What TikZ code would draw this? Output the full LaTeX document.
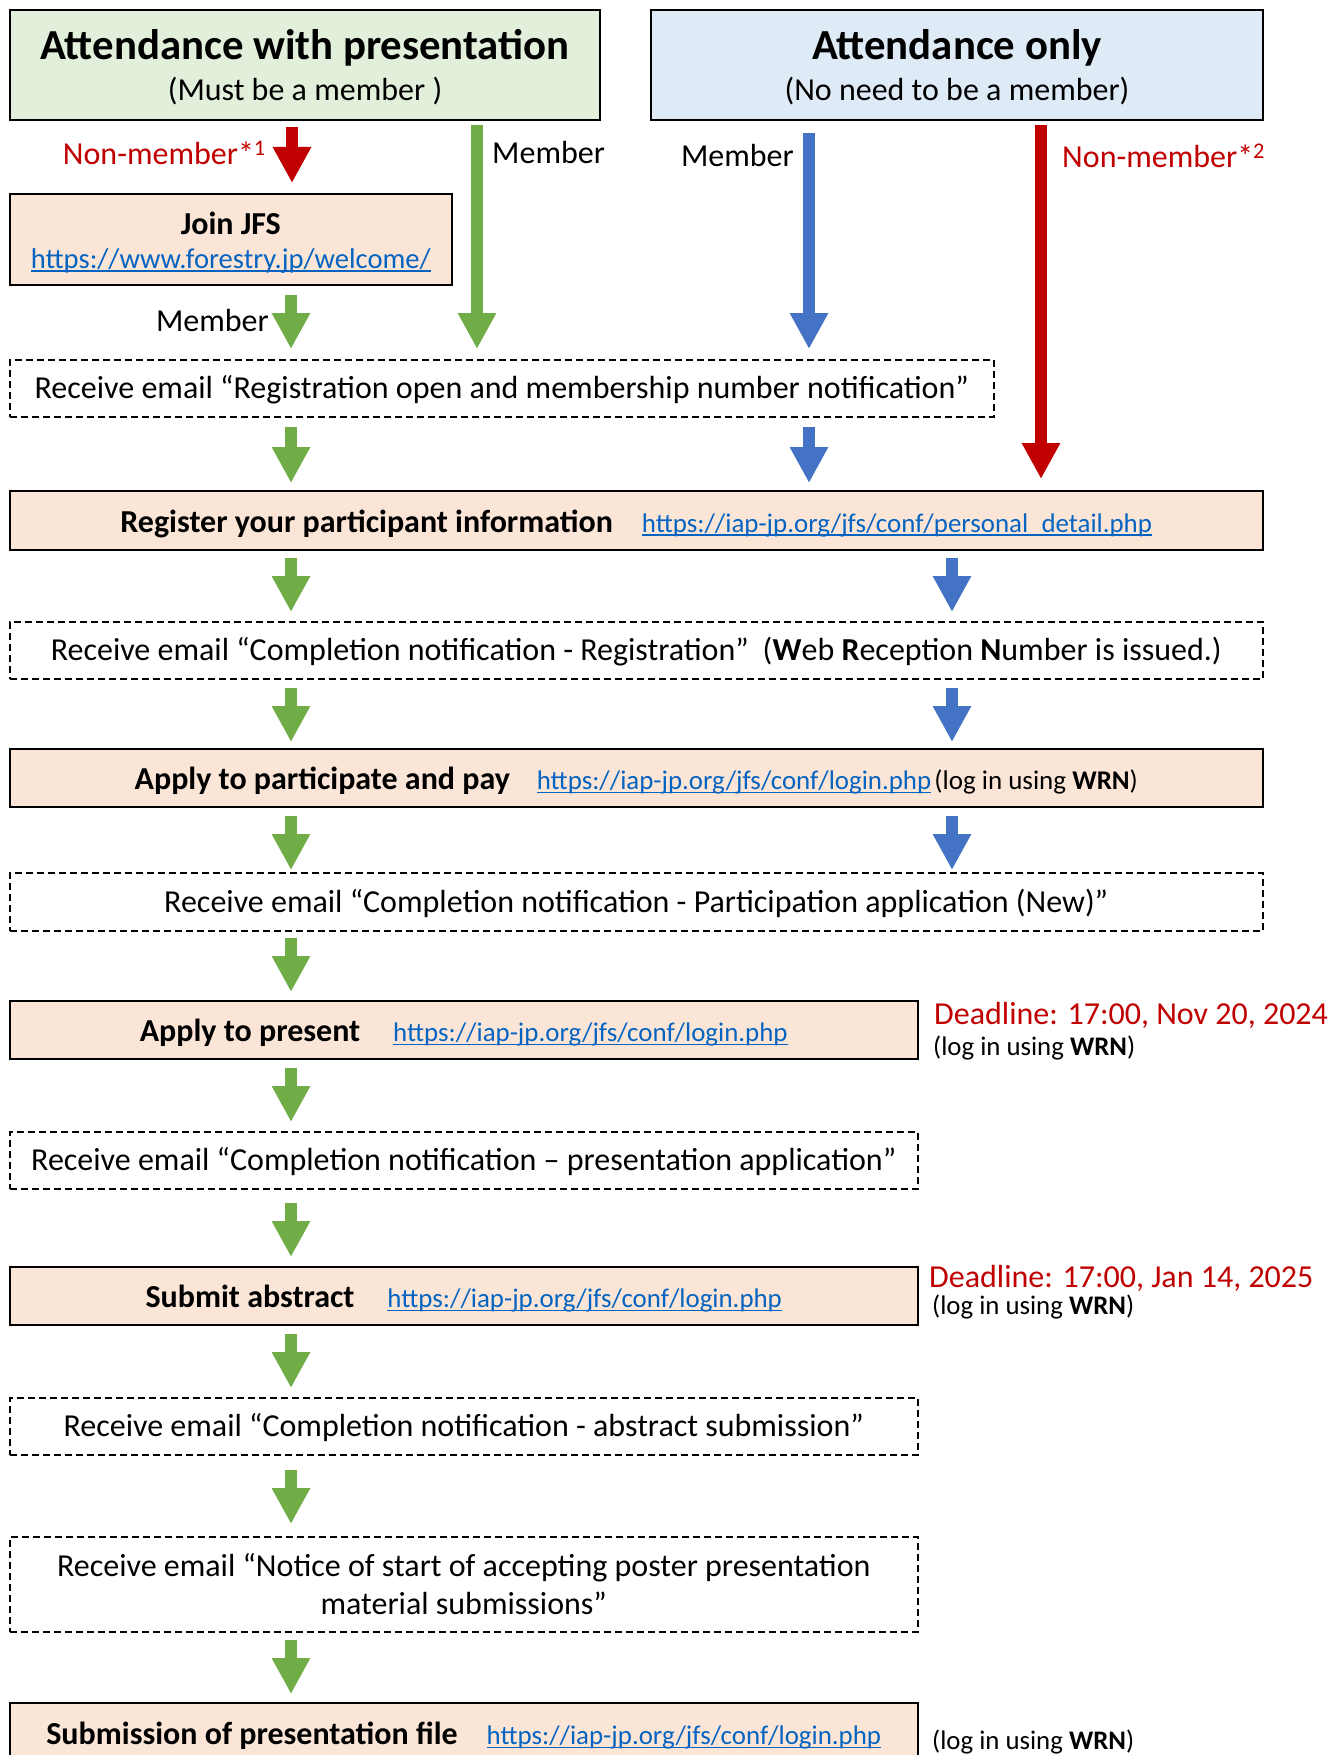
\documentclass[tikz,border=0pt]{standalone}
\usepackage{fontspec}
\setmainfont{Carlito}
\usetikzlibrary{arrows.meta}
\definecolor{gfill}{HTML}{E2EFDA}
\definecolor{bfill}{HTML}{DEEBF7}
\definecolor{pfill}{HTML}{FBE5D6}
\definecolor{garr}{HTML}{70AD47}
\definecolor{barr}{HTML}{4472C4}
\definecolor{rarr}{HTML}{C00000}
\definecolor{lnkc}{HTML}{0563C1}
\newsavebox\lnkbox
\newcommand\lnk[1]{\sbox\lnkbox{\color{lnkc}#1}{\color{lnkc}\rlap{\usebox\lnkbox}\rule[-0.12em]{\wd\lnkbox}{0.055em}}}
\newcommand\fsz[2]{\fontsize{#1}{#2}\selectfont}
\newcommand\urlf{\fsz{26.9}{32}}
\newcommand\login{{\fsz{27}{32}(log in using \textbf{WRN})}}
\begin{document}
\begin{tikzpicture}[x=1pt,y=-1pt,
  solidbox/.style={draw=black, line width=1.6pt, fill=pfill, anchor=north west, inner sep=0pt, align=center, font=\fsz{32}{38}},
  dashbox/.style={draw=black, line width=1.5pt, dash pattern=on 7pt off 4pt, anchor=north west, inner sep=0pt, align=center, font=\fsz{32}{38}},
  dline/.style={text height=29pt, text depth=8pt},
  sline/.style={text height=31pt, text depth=7pt},
  headbox/.style={draw=black, line width=2pt, anchor=north west, inner sep=0pt, align=center, font=\fsz{32}{38}},
  lbl/.style={inner sep=0pt, font=\fsz{32}{38}},
  note/.style={inner sep=0pt, anchor=west, font=\fsz{26.8}{32}},
  fat/.style={line width=12pt, -{Triangle[width=36pt,length=36pt]}},
  ga/.style={fat, color=garr},
  ba/.style={fat, color=barr},
  ra/.style={fat, color=rarr}
]
\useasboundingbox (0,0) rectangle (1330,1755);
\clip (0,0) rectangle (1330,1755);

% columns
\coordinate (gx) at (291,0);
\coordinate (rx1) at (292,0);
\coordinate (mx) at (477,0);
\coordinate (bx) at (809,0);
\coordinate (bx2) at (952,0);
\coordinate (rx) at (1041,0);

% header boxes
\node[headbox, fill=gfill, minimum width=590pt, minimum height=110pt] (att) at (9,9)
  {\rule{0pt}{35pt}{\fsz{42.8}{48}\bfseries Attendance with presentation}\\[3pt](Must be a member )};
\node[headbox, fill=bfill, minimum width=612pt, minimum height=110pt] (only) at (650,9)
  {\rule{0pt}{35pt}{\fsz{42.8}{48}\bfseries Attendance only}\\[3pt](No need to be a member)};

% join box
\node[solidbox, minimum width=442pt, minimum height=91pt] (join) at (9,193)
  {\rule{0pt}{29pt}\textbf{Join JFS}\\[-4pt]{\fsz{28.6}{32}\lnk{https://www.forestry.jp/welcome/}}};

% flow boxes
\node[dashbox, dline, minimum width=984pt, minimum height=57pt] (d1) at (9,359)
  {Receive email “Registration open and membership number notification”};
\node[solidbox, sline, minimum width=1253pt, minimum height=59pt] (reg) at (9,490)
  {\textbf{Register your participant information}\hspace{29pt}{\urlf\lnk{https://iap-jp.org/jfs/conf/personal\_detail.php}}};
\node[dashbox, dline, minimum width=1253pt, minimum height=57pt] (d2) at (9,621)
  {Receive email “Completion notification - Registration”\hspace{14pt}(\textbf{W}eb \textbf{R}eception \textbf{N}umber is issued.)};
\node[solidbox, sline, minimum width=1253pt, minimum height=58pt] (app) at (9,748)
  {\textbf{Apply to participate and pay}\hspace{27pt}{\urlf\lnk{https://iap-jp.org/jfs/conf/login.php}}\hspace{3pt}\login};
\node[dashbox, dline, minimum width=1253pt, minimum height=58pt] (d3) at (9,872)
  {Receive email “Completion notification - Participation application (New)”};
\node[solidbox, sline, minimum width=908pt, minimum height=58pt] (pres) at (9,1000)
  {\textbf{Apply to present}\hspace{33pt}{\urlf\lnk{https://iap-jp.org/jfs/conf/login.php}}};
\node[dashbox, dline, minimum width=908pt, minimum height=57pt] (d4) at (9,1131)
  {Receive email “Completion notification – presentation application”};
\node[solidbox, sline, minimum width=908pt, minimum height=58pt] (sub) at (9,1266)
  {\textbf{Submit abstract}\hspace{33pt}{\urlf\lnk{https://iap-jp.org/jfs/conf/login.php}}};
\node[dashbox, dline, minimum width=908pt, minimum height=57pt] (d5) at (9,1397)
  {Receive email “Completion notification - abstract submission”};
\node[dashbox, minimum width=908pt, minimum height=95pt] (d6) at (9,1536)
  {\rule{0pt}{23pt}Receive email “Notice of start of accepting poster presentation\\material submissions”};
\node[solidbox, sline, minimum width=908pt, minimum height=60pt] (last) at (9,1702)
  {\textbf{Submission of presentation file}\hspace{29pt}{\urlf\lnk{https://iap-jp.org/jfs/conf/login.php}}};

% side notes
\node[lbl, anchor=west, text=rarr] (dl1) at (934,1015) {Deadline: 17:00, Nov 20, 2024};
\node[note] (lg1) at (933,1048) {(log in using \textbf{WRN})};
\node[lbl, anchor=west, text=rarr] (dl2) at (929,1278) {Deadline: 17:00, Jan 14, 2025};
\node[note] (lg2) at (932,1307) {(log in using \textbf{WRN})};
\node[note] (lg3) at (932,1742) {(log in using \textbf{WRN})};

% branch labels
\node[lbl, anchor=east, text=rarr] (nm1) at (266,153) {Non-member*\textsuperscript{1}};
\node[lbl, anchor=west] (m1) at (492,153) {Member};
\node[lbl, anchor=east] (m2) at (794,156) {Member};
\node[lbl, anchor=west, text=rarr] (nm2) at (1062,156) {Non-member*\textsuperscript{2}};
\node[lbl, anchor=east] (m3) at (269,320) {Member};

% top arrows
\draw[ra, shorten <=6pt, shorten >=10pt] (att.south -| rx1) -- (join.north -| rx1);
\draw[ga, shorten <=4pt, shorten >=10pt] (att.south -| mx) -- (d1.north -| mx);
\draw[ba, shorten <=12pt, shorten >=10pt] (only.south -| bx) -- (d1.north -| bx);
\draw[ra, shorten <=4pt, shorten >=11pt] (only.south -| rx) -- (reg.north -| rx);
\draw[ga, shorten <=9pt, shorten >=10pt] (join.south -| gx) -- (d1.north -| gx);

% flow arrows
\draw[ga, shorten <=9pt, shorten >=7pt] (d1.south -| gx) -- (reg.north -| gx);
\draw[ba, shorten <=9pt, shorten >=7pt] (d1.south -| bx) -- (reg.north -| bx);
\draw[ga, shorten <=7pt, shorten >=9pt] (reg.south -| gx) -- (d2.north -| gx);
\draw[ba, shorten <=7pt, shorten >=9pt] (reg.south -| bx2) -- (d2.north -| bx2);
\draw[ga, shorten <=8pt, shorten >=6pt] (d2.south -| gx) -- (app.north -| gx);
\draw[ba, shorten <=8pt, shorten >=6pt] (d2.south -| bx2) -- (app.north -| bx2);
\draw[ga, shorten <=8pt, shorten >=2pt] (app.south -| gx) -- (d3.north -| gx);
\draw[ba, shorten <=8pt, shorten >=2pt] (app.south -| bx2) -- (d3.north -| bx2);
\draw[ga, shorten <=6pt, shorten >=8pt] (d3.south -| gx) -- (pres.north -| gx);
\draw[ga, shorten <=8pt, shorten >=9pt] (pres.south -| gx) -- (d4.north -| gx);
\draw[ga, shorten <=13pt, shorten >=9pt] (d4.south -| gx) -- (sub.north -| gx);
\draw[ga, shorten <=8pt, shorten >=9pt] (sub.south -| gx) -- (d5.north -| gx);
\draw[ga, shorten <=14pt, shorten >=12pt] (d5.south -| gx) -- (d6.north -| gx);
\draw[ga, shorten <=7pt, shorten >=8pt] (d6.south -| gx) -- (last.north -| gx);
\end{tikzpicture}
\end{document}
